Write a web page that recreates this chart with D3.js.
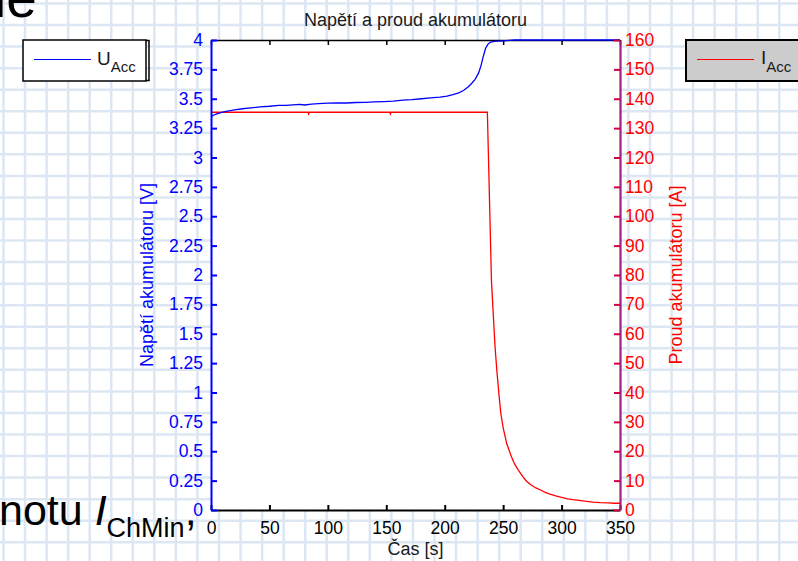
<!DOCTYPE html>
<html>
<head>
<meta charset="utf-8">
<script src="https://cdn.jsdelivr.net/npm/d3@7"></script>
<style>
    body { margin: 0; background: #fff; }
    svg { display: block; font-family: "Liberation Sans", Arial, sans-serif; }
</style>
</head>
<body>
<div id="chart-area"></div>
<script>
/*
*    napeti a proud akumulatoru
*/

// voltage [V] vs time [s]
var timeU = [0, 2, 5, 9, 14, 20, 27, 34, 42, 50, 58, 64, 70, 76, 80, 86, 92, 100, 108, 116, 124, 132,
    140, 148, 156, 164, 172, 180, 188, 196, 202, 207, 212, 216, 220, 223, 226, 229, 231, 233, 235, 237,
    239, 242, 246, 250, 255, 260, 350];
var voltage = [3.345, 3.36, 3.372, 3.385, 3.395, 3.405, 3.415, 3.422, 3.43, 3.436, 3.444, 3.443, 3.448,
    3.452, 3.447, 3.455, 3.458, 3.462, 3.465, 3.464, 3.468, 3.47, 3.474, 3.476, 3.479, 3.488, 3.493, 3.5,
    3.507, 3.514, 3.522, 3.535, 3.55, 3.57, 3.6, 3.63, 3.665, 3.72, 3.78, 3.86, 3.93, 3.965,
    3.98, 3.988, 3.99, 3.993, 3.997, 4.0, 4.0];

// current [A] vs time [s]
var timeI = [0, 83, 83.5, 84, 153, 153.5, 154, 236.5, 240, 241.5, 243, 244.5, 246.5, 248, 250, 253, 257,
    260, 263, 267, 270, 274, 278, 282, 286, 290, 295, 300, 305, 310, 315, 320, 327, 333, 340, 345, 350];
var current = [135.4, 135.4, 134.8, 135.4, 135.4, 134.8, 135.4, 135.4, 78, 67, 56, 48, 39, 33, 28, 22.7,
    18.2, 15.5, 13.6, 11.3, 9.8, 8.5, 7.5, 6.8, 6.0, 5.4, 4.8, 4.3, 3.8, 3.5, 3.3, 3.0, 2.7, 2.5, 2.4, 2.3, 2.3];

var xTicks = [0, 50, 100, 150, 200, 250, 300, 350];
var uTicks = [0, 0.25, 0.5, 0.75, 1, 1.25, 1.5, 1.75, 2, 2.25, 2.5, 2.75, 3, 3.25, 3.5, 3.75, 4];
var iTicks = [0, 10, 20, 30, 40, 50, 60, 70, 80, 90, 100, 110, 120, 130, 140, 150, 160];

var margin = { left: 211, top: 40 };
var width = 409;
var height = 470;

var svg = d3.select("#chart-area").append("svg")
    .attr("width", 798)
    .attr("height", 561);

// slide background grid
var bg = svg.append("g");
d3.range(3.5, 798, 21.55).forEach((v) => {
    bg.append("line").attr("x1", v).attr("x2", v).attr("y1", 0).attr("y2", 561)
        .attr("stroke", "#dce7f3").attr("stroke-width", 2.5);
});
d3.range(3.5, 561, 21.55).forEach((v) => {
    bg.append("line").attr("y1", v).attr("y2", v).attr("x1", 0).attr("x2", 798)
        .attr("stroke", "#dce7f3").attr("stroke-width", 2.5);
});

// slide text behind the figure
svg.append("text")
    .attr("x", -6).attr("y", 17)
    .style("font-size", "55px")
    .attr("fill", "#000")
    .text("le");

var slideText = svg.append("text")
    .attr("x", -1).attr("y", 525)
    .style("font-size", "43px")
    .attr("fill", "#000");
slideText.append("tspan").text("notu ");
slideText.append("tspan").style("font-style", "italic").text("I");
slideText.append("tspan").attr("dy", 12).style("font-size", "27px").text("ChMin");
slideText.append("tspan").attr("dy", -12).text(",");

var g = svg.append("g")
    .attr("transform", "translate(" + margin.left + ", " + margin.top + ")");

var x = d3.scaleLinear().domain([0, 350]).range([0, width]);
var yU = d3.scaleLinear().domain([0, 4]).range([height, 0]);
var yI = d3.scaleLinear().domain([0, 160]).range([height, 0]);

g.append("rect")
    .attr("width", width)
    .attr("height", height)
    .attr("fill", "#fff");

// title
g.append("text")
    .attr("x", width / 2)
    .attr("y", -14)
    .attr("text-anchor", "middle")
    .style("font-size", "18px")
    .attr("fill", "#1a1a1a")
    .text("Napětí a proud akumulátoru");

// top border
var topAxis = g.append("g")
    .call(d3.axisTop(x).tickValues(xTicks).tickSizeInner(-5).tickSizeOuter(0).tickFormat(""));
topAxis.selectAll(".domain, .tick line").attr("stroke", "#000").attr("stroke-width", 1.5);

g.append("clipPath").attr("id", "clip")
    .append("rect").attr("x", 0).attr("y", -1.5).attr("width", width).attr("height", height + 1.5);

var lineU = d3.line().x((d, i) => x(timeU[i])).y((d) => yU(d));
var lineI = d3.line().x((d, i) => x(timeI[i])).y((d) => yI(d));

g.append("path")
    .datum(current)
    .attr("clip-path", "url(#clip)")
    .attr("fill", "none")
    .attr("stroke", "#ff0000")
    .attr("stroke-width", 1.3)
    .attr("d", lineI);

g.append("path")
    .datum(voltage)
    .attr("clip-path", "url(#clip)")
    .attr("fill", "none")
    .attr("stroke", "#0000ff")
    .attr("stroke-width", 1.3)
    .attr("d", lineU);

// bottom axis
var xAxisGroup = g.append("g")
    .attr("transform", "translate(0, " + height + ")")
    .call(d3.axisBottom(x).tickValues(xTicks).tickSizeInner(-5).tickSizeOuter(0).tickPadding(12));
xAxisGroup.selectAll(".domain, .tick line").attr("stroke", "#000").attr("stroke-width", 2);
xAxisGroup.selectAll(".tick text").attr("fill", "#000").style("font-size", "17.5px");

// left axis (voltage)
var uAxisGroup = g.append("g")
    .call(d3.axisLeft(yU).tickValues(uTicks).tickSizeInner(-6).tickSizeOuter(0).tickPadding(8)
        .tickFormat((d) => String(d)));
uAxisGroup.selectAll(".domain, .tick line").attr("stroke", "#0000ff").attr("stroke-width", 2);
uAxisGroup.selectAll(".tick text").attr("fill", "#0000ff").style("font-size", "17.5px");

// right axis (current)
var iAxisGroup = g.append("g")
    .attr("transform", "translate(" + width + ", 0)")
    .call(d3.axisRight(yI).tickValues(iTicks).tickSizeInner(-6).tickSizeOuter(0).tickPadding(5));
iAxisGroup.select(".domain").attr("stroke", "#a01f80").attr("stroke-width", 2.2);
iAxisGroup.selectAll(".tick line").attr("stroke", "#d4003c").attr("stroke-width", 2);
iAxisGroup.selectAll(".tick text").attr("fill", "#ff0000").style("font-size", "17.5px");

// axis labels
g.append("text")
    .attr("x", width / 2)
    .attr("y", height + 45)
    .attr("text-anchor", "middle")
    .style("font-size", "18px")
    .attr("fill", "#1a1a1a")
    .text("Čas [s]");

g.append("text")
    .attr("x", -(height / 2))
    .attr("y", -58)
    .attr("text-anchor", "middle")
    .attr("transform", "rotate(-90)")
    .style("font-size", "18px")
    .attr("fill", "#0000ff")
    .text("Napětí akumulátoru [V]");

g.append("text")
    .attr("x", -(height / 2))
    .attr("y", width + 62)
    .attr("text-anchor", "middle")
    .attr("transform", "rotate(-90)")
    .style("font-size", "18px")
    .attr("fill", "#ff0000")
    .text("Proud akumulátoru [A]");

// legends
var legU = svg.append("g").attr("transform", "translate(23, 40)");
legU.append("rect").attr("width", 123).attr("height", 41)
    .attr("fill", "#fff").attr("stroke", "#000").attr("stroke-width", 1.5);
legU.append("path").attr("d", "M123,0.5 H126 V40.5 H123")
    .attr("fill", "none").attr("stroke", "#000").attr("stroke-width", 1.5);
legU.append("line").attr("x1", 11).attr("x2", 68).attr("y1", 19.5).attr("y2", 19.5)
    .attr("stroke", "#0000ff").attr("stroke-width", 1.2);
var legUText = legU.append("text").attr("x", 74).attr("y", 25).style("font-size", "19px").attr("fill", "#1a1a1a");
legUText.append("tspan").text("U");
legUText.append("tspan").attr("dy", 7).style("font-size", "15px").text("Acc");

var legI = svg.append("g").attr("transform", "translate(686, 40)");
legI.append("rect").attr("width", 130).attr("height", 41)
    .attr("fill", "#cccccc").attr("stroke", "#000").attr("stroke-width", 2);
legI.append("line").attr("x1", 11).attr("x2", 68).attr("y1", 19.5).attr("y2", 19.5)
    .attr("stroke", "#ff0000").attr("stroke-width", 1.2);
var legIText = legI.append("text").attr("x", 75).attr("y", 24).style("font-size", "19px").attr("fill", "#1a1a1a");
legIText.append("tspan").text("I");
legIText.append("tspan").attr("dy", 8).style("font-size", "15px").text("Acc");
</script>
</body>
</html>
